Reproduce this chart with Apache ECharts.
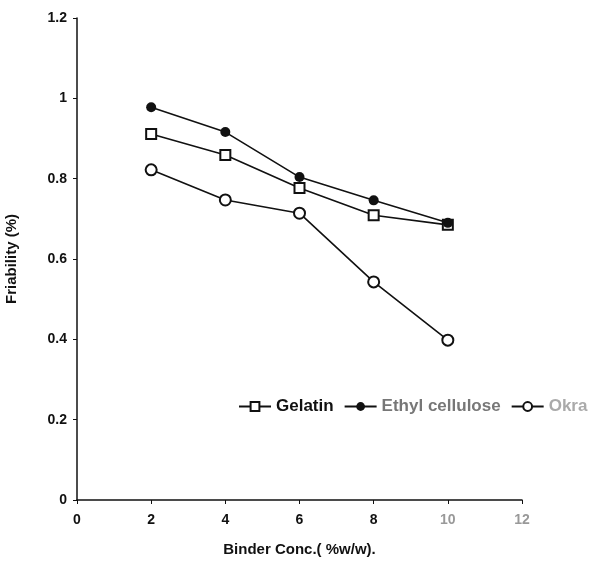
<!DOCTYPE html>
<html>
<head>
<meta charset="utf-8">
<script src="https://cdn.jsdelivr.net/npm/echarts@6/dist/echarts.min.js"></script>
<style>
html,body{margin:0;padding:0;background:#fff;}
#chart{width:611px;height:574px;}
</style>
</head>
<body>
<div id="chart"></div>
<script>
const binderConc = [2, 4, 6, 8, 10];
const gelatin = [0.911, 0.859, 0.777, 0.709, 0.685];
const ethylCellulose = [0.978, 0.916, 0.804, 0.746, 0.69];
const okra = [0.822, 0.747, 0.714, 0.543, 0.398];
const seriesNames = ['Gelatin', 'Ethyl cellulose', 'Okra'];

function pairs(ys) { return binderConc.map((x, i) => [x, ys[i]]); }

const chart = echarts.init(document.getElementById('chart'), null, {renderer: 'canvas'});
const font = 'Liberation Sans, Arial, sans-serif';
const lineStyle = {color: '#111', width: 1.6};
chart.setOption({
  animation: false,
  backgroundColor: '#fff',
  grid: {left: 77, right: 89, top: 18, bottom: 74, containLabel: false, outerBoundsMode: 'none'},
  legend: {
    left: 233, top: 393, width: 900,
    itemWidth: 32, itemHeight: 11, itemGap: 10,
    textStyle: {fontFamily: font, fontWeight: 'bold', fontSize: 17, color: '#111'},
    data: [
      {name: seriesNames[0]},
      {name: seriesNames[1], textStyle: {color: '#777'}},
      {name: seriesNames[2], textStyle: {color: '#aaa'}}
    ]
  },
  xAxis: {
    type: 'value', min: 0, max: 12, interval: 2,
    name: 'Binder Conc.( %w/w).', nameLocation: 'middle', nameGap: 42,
    nameTextStyle: {fontFamily: font, fontWeight: 'bold', fontSize: 15, color: '#111'},
    axisLine: {lineStyle: {color: '#111', width: 1.5}},
    axisTick: {show: true, inside: false, length: 4, lineStyle: {color: '#111'}},
    splitLine: {show: false},
    axisLabel: {fontFamily: font, fontWeight: 'bold', fontSize: 14, color: '#111', margin: 13,
      formatter: v => (v >= 10 ? '{g|' + v + '}' : String(v)),
      rich: {g: {fontFamily: font, fontWeight: 'bold', fontSize: 14, color: '#999'}}}
  },
  yAxis: {
    type: 'value', min: 0, max: 1.2, interval: 0.2,
    name: 'Friability (%)', nameLocation: 'middle', nameGap: 58, nameRotate: 90,
    nameTextStyle: {fontFamily: font, fontWeight: 'bold', fontSize: 15, color: '#111'},
    axisLine: {show: true, lineStyle: {color: '#111', width: 1.5}},
    axisTick: {show: true, inside: false, length: 4, lineStyle: {color: '#111'}},
    splitLine: {show: false},
    axisLabel: {fontFamily: font, fontWeight: 'bold', fontSize: 14, color: '#111', margin: 10,
      formatter: v => String(Math.round(v * 10) / 10)}
  },
  series: [
    {name: seriesNames[0], type: 'line', data: pairs(gelatin), symbol: 'emptyRect', symbolSize: 10,
      lineStyle: lineStyle, itemStyle: {color: '#111', borderWidth: 1.3}},
    {name: seriesNames[1], type: 'line', data: pairs(ethylCellulose), symbol: 'circle', symbolSize: 10,
      lineStyle: lineStyle, itemStyle: {color: '#111'}},
    {name: seriesNames[2], type: 'line', data: pairs(okra), symbol: 'emptyCircle', symbolSize: 11,
      lineStyle: lineStyle, itemStyle: {color: '#111', borderWidth: 1.3}}
  ]
});
</script>
</body>
</html>
